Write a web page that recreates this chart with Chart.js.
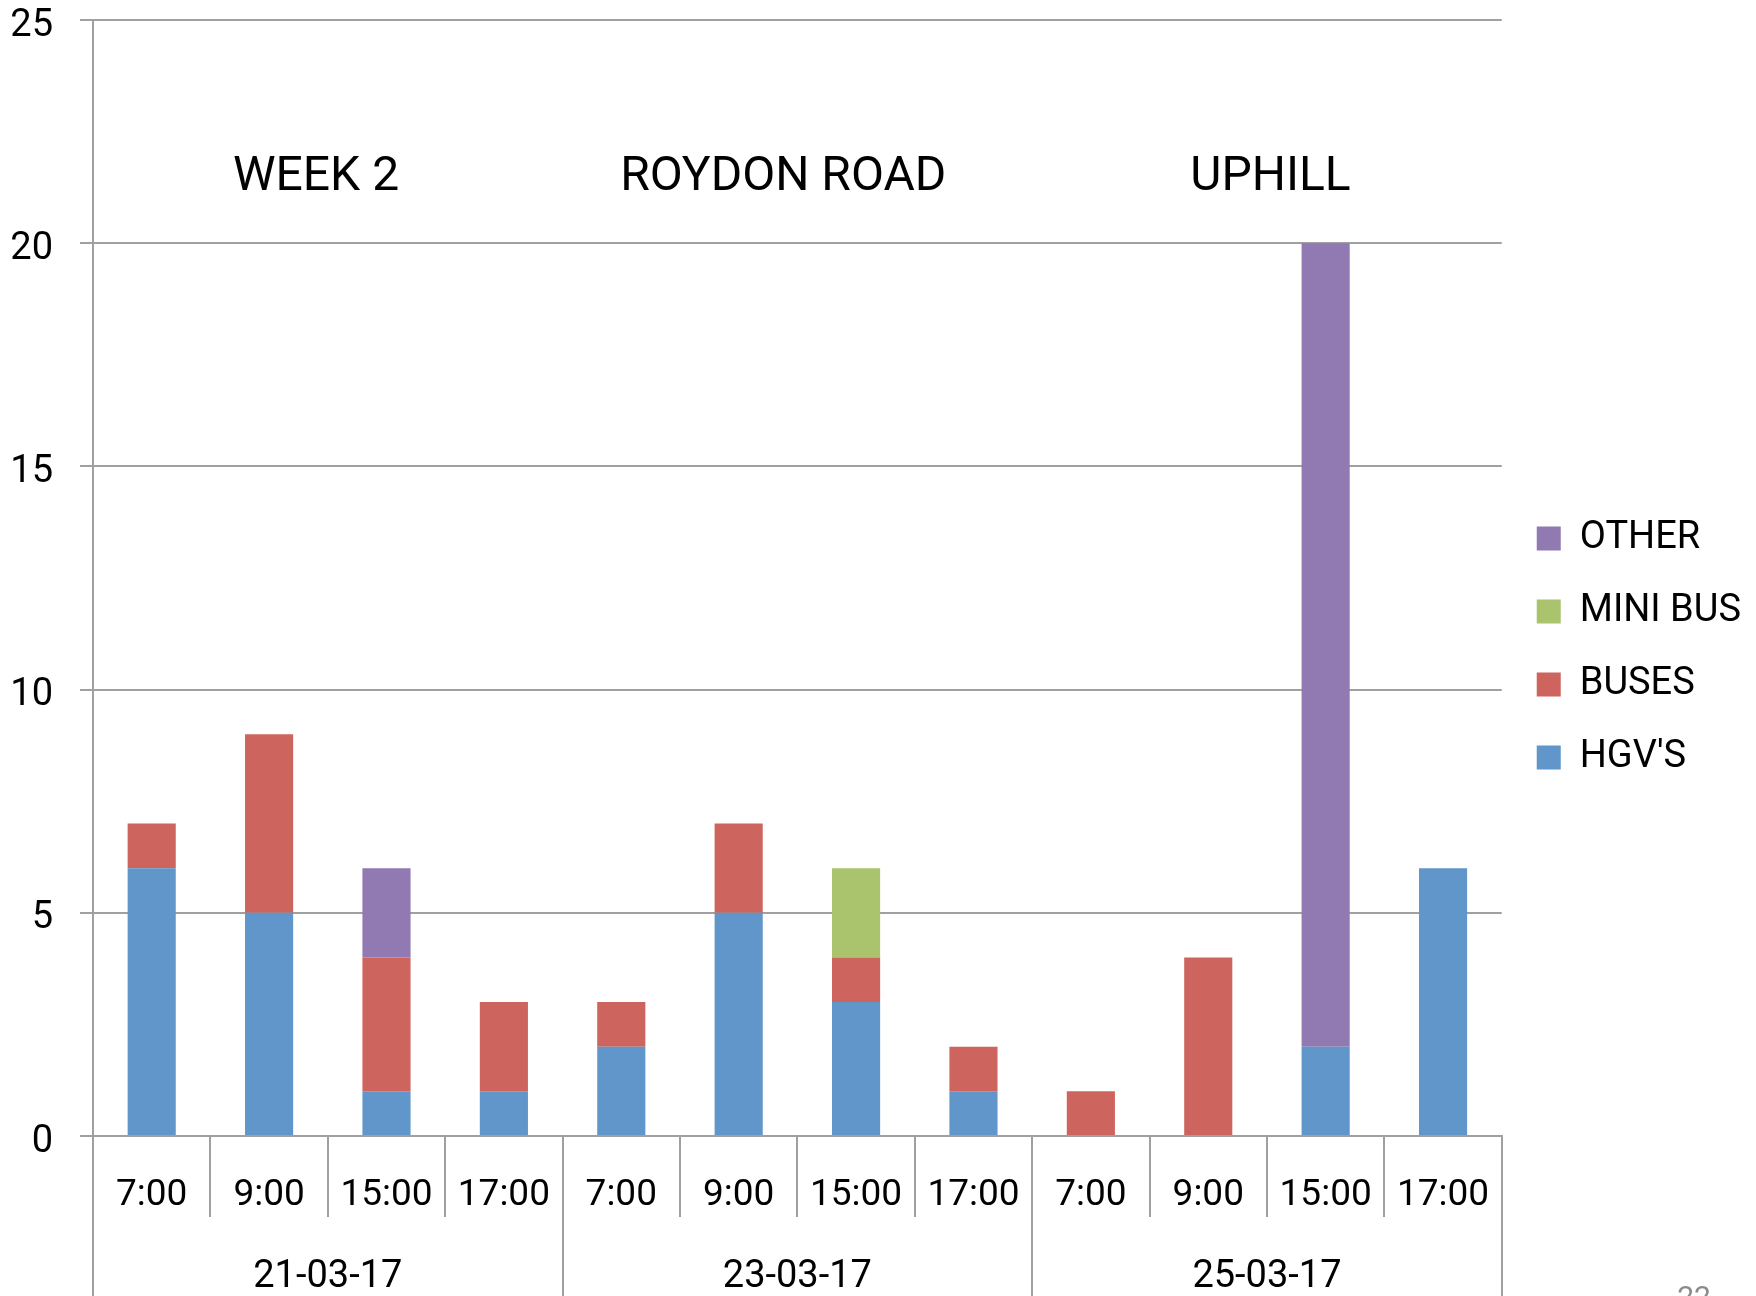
<!DOCTYPE html>
<html>
<head>
<meta charset="utf-8">
<script src="https://cdn.jsdelivr.net/npm/chart.js@4/dist/chart.umd.min.js"></script>
<style>
  html, body { margin: 0; padding: 0; background: #ffffff; }
  #wrap { width: 1756px; height: 1296px; }
</style>
</head>
<body>
<div id="wrap"><canvas id="c" width="1756" height="1296"></canvas></div>
<script>
// ---- data ----
const times = ['7:00', '9:00', '15:00', '17:00', '7:00', '9:00', '15:00', '17:00', '7:00', '9:00', '15:00', '17:00'];
const dates = ['21-03-17', '23-03-17', '25-03-17'];
const hgvs    = [6, 5, 1, 1, 2, 5, 3, 1, 0, 0, 2, 6];
const buses   = [1, 4, 3, 2, 1, 2, 1, 1, 1, 4, 0, 0];
const miniBus = [0, 0, 0, 0, 0, 0, 2, 0, 0, 0, 0, 0];
const other   = [0, 0, 2, 0, 0, 0, 0, 0, 0, 0, 18, 0];
const yTicks  = [0, 5, 10, 15, 20, 25];
const sectionTitles = ['WEEK 2', 'ROYDON ROAD', 'UPHILL'];
const pageNumber = '22';

// ---- styling ----
const FONT = "Roboto, 'Liberation Sans', sans-serif";
const GRID = '#a0a0a0';
const titleAnchorIdx = [1.40, 5.38, 9.53]; // category-index positions of the section titles
const titleValue = 21.45;                   // y value at which section titles sit

const annotations = {
  id: 'annotations',
  afterDraw(chart) {
    const ctx = chart.ctx;
    const xs = chart.scales.x, ys = chart.scales.y;
    ctx.save();
    ctx.fillStyle = '#000000';
    ctx.font = '48px ' + FONT;
    ctx.textAlign = 'center';
    ctx.textBaseline = 'middle';
    const step = xs.getPixelForValue(1) - xs.getPixelForValue(0);
    sectionTitles.forEach((t, i) => {
      const x = xs.getPixelForValue(0) + titleAnchorIdx[i] * step;
      ctx.fillText(t, x, ys.getPixelForValue(titleValue));
    });
    ctx.fillStyle = '#8c8c8c';
    ctx.font = '30px ' + FONT;
    ctx.textBaseline = 'top';
    ctx.fillText(pageNumber, chart.width - 62, chart.height - 12);
    ctx.restore();
  }
};

new Chart(document.getElementById('c'), {
  type: 'bar',
  data: {
    labels: times,
    datasets: [
      { label: "HGV'S",    data: hgvs,    backgroundColor: '#6096c9' },
      { label: 'BUSES',    data: buses,   backgroundColor: '#cd645d' },
      { label: 'MINI BUS', data: miniBus, backgroundColor: '#a9c46d' },
      { label: 'OTHER',    data: other,   backgroundColor: '#9179b1' }
    ]
  },
  options: {
    responsive: false,
    animation: false,
    devicePixelRatio: 1,
    datasets: { bar: { categoryPercentage: 1.0, barPercentage: 0.41, borderWidth: 0 } },
    layout: { padding: { top: 0, right: 5, bottom: 0, left: 0 } },
    plugins: {
      title: { display: false },
      tooltip: { enabled: false },
      legend: {
        position: 'right',
        reverse: true,
        labels: {
          font: { family: FONT, size: 38 },
          color: '#000000',
          boxWidth: 24,
          boxHeight: 24,
          padding: 35
        }
      }
    },
    scales: {
      x: {
        type: 'category',
        stacked: true,
        offset: true,
        weight: 0,
        grid: { display: true, offset: true, drawOnChartArea: false, drawTicks: true, tickLength: 81, color: GRID, lineWidth: 2 },
        border: { display: true, color: GRID, width: 2 },
        ticks: { autoSkip: false, maxRotation: 0, minRotation: 0, color: '#000000', font: { family: FONT, size: 37 }, padding: -43 },
        afterFit(scale) { scale.height = 81; }
      },
      x2: {
        type: 'category',
        labels: dates,
        position: 'bottom',
        offset: true,
        weight: 1,
        grid: { display: true, offset: true, drawOnChartArea: false, drawTicks: true, tickLength: 79, color: GRID, lineWidth: 2 },
        border: { display: false },
        ticks: { autoSkip: false, maxRotation: 0, minRotation: 0, color: '#000000', font: { family: FONT, size: 38 }, padding: -41 },
        afterFit(scale) { scale.height = 79; }
      },
      y: {
        stacked: true,
        min: yTicks[0],
        max: yTicks[yTicks.length - 1],
        afterBuildTicks(scale) { scale.ticks = yTicks.map(v => ({ value: v })); },
        grid: { color: GRID, lineWidth: 2, drawTicks: true, tickLength: 13 },
        border: { display: true, color: GRID, width: 2 },
        ticks: { color: '#000000', font: { family: FONT, size: 38, lineHeight: 1.1 }, padding: 27, labelOffset: 6 },
        afterFit(scale) { scale.width = 93; scale.paddingTop = 20; scale.paddingBottom = 0; }
      }
    }
  },
  plugins: [annotations]
});
</script>
</body>
</html>
